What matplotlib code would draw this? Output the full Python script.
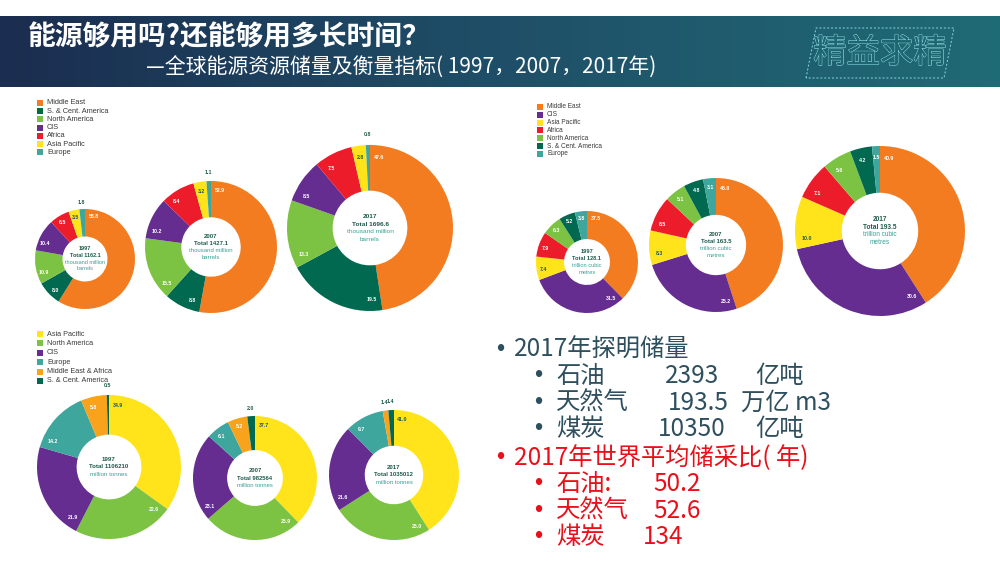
import numpy as np
import matplotlib.pyplot as plt
from matplotlib import patheffects
from matplotlib.colors import LinearSegmentedColormap
from matplotlib.patches import Rectangle, Polygon

CJK = ['Noto Sans CJK SC', 'DejaVu Sans']
LAT = ['Liberation Sans', 'DejaVu Sans']

# ---- data (percent shares) ----
years = ['1997', '2007', '2017']

oil_regions = ['Middle East', 'S. & Cent. America', 'North America', 'CIS',
               'Africa', 'Asia Pacific', 'Europe']
oil_1997 = [58.8, 8.0, 10.9, 10.4, 6.5, 3.5, 1.8]
oil_2007 = [52.9, 8.8, 15.5, 10.2, 8.4, 3.2, 1.1]
oil_2017 = [47.6, 19.5, 13.3, 8.5, 7.5, 2.8, 0.8]
oil_totals = ['1162.1', '1427.1', '1696.6']
oil_unit = ['thousand million', 'barrels']

gas_regions = ['Middle East', 'CIS', 'Asia Pacific', 'Africa', 'North America',
               'S. & Cent. America', 'Europe']
gas_1997 = [37.5, 31.5, 7.4, 7.9, 6.3, 5.2, 3.8]
gas_2007 = [45.0, 25.2, 8.3, 8.5, 5.1, 4.8, 3.1]
gas_2017 = [40.9, 30.6, 10.0, 7.1, 5.6, 4.2, 1.5]
gas_totals = ['128.1', '163.5', '193.5']
gas_unit = ['trillion cubic', 'metres']

coal_regions = ['Asia Pacific', 'North America', 'CIS', 'Europe',
                'Middle East & Africa', 'S. & Cent. America']
coal_1997 = [34.9, 22.6, 21.9, 14.2, 5.8, 0.5]
coal_2007 = [37.7, 25.9, 23.1, 6.1, 5.2, 2.0]
coal_2017 = [41.0, 25.0, 21.6, 9.7, 1.4, 1.4]
coal_totals = ['1106210', '982564', '1035012']
coal_unit = ['million tonnes']

colors = {
    'Middle East': '#f47c20', 'S. & Cent. America': '#00694f',
    'North America': '#7cc243', 'CIS': '#662d91', 'Africa': '#ec1c2b',
    'Asia Pacific': '#ffe31b', 'Europe': '#3ea69c',
    'Middle East & Africa': '#f9a21b',
}
DARK = '#1d5a4b'
TEAL = '#3aa096'

W, H = 1000, 562
fig = plt.figure(figsize=(10, 5.62), dpi=100)
bg = fig.add_axes([0, 0, 1, 1])

# header band
cmap = LinearSegmentedColormap.from_list('hdr', ['#1b2d50', '#1f4f68', '#1f6b75'])
bg.imshow(np.linspace(0, 1, 256).reshape(1, -1), extent=[0, W, 87, 16],
          cmap=cmap, aspect='auto')
bg.set_xlim(0, W)
bg.set_ylim(H, 0)
bg.axis('off')

bg.text(28, 37, '能源够用吗?还能够用多长时间？', color='white', fontsize=20,
        fontweight='bold', va='center', family=CJK)
bg.text(146, 68, '—全球能源资源储量及衡量指标( 1997，2007，2017年)', color='white',
        fontsize=15, va='center', family=CJK)

# logo
bg.add_patch(Polygon([(806, 78), (816, 28), (954, 28), (944, 78)], closed=True,
                     fill=False, ec='#86d8e2', lw=0.7, ls=(0, (2, 2))))
bg.text(880, 53, '精益求精', fontsize=24, color='#1f6670',
        ha='center', va='center', family=CJK,
        path_effects=[patheffects.withStroke(linewidth=0.9, foreground='#8fe0ea'),
                      patheffects.Normal()])


def legend(x0, y0, dy, names, fs):
    for i, n in enumerate(names):
        y = y0 + i * dy
        bg.add_patch(Rectangle((x0 - 3, y - 3), 6, 6, color=colors[n], lw=0))
        bg.text(x0 + 7, y, n, fontsize=fs, va='center', color='#3a3a3a', family=LAT)


def donut(cx, cy, r, values, names, year, total, unit, outside_max):
    ax = fig.add_axes([(cx - r) / W, 1 - (cy + r) / H, 2 * r / W, 2 * r / H])
    ax.pie(values, colors=[colors[n] for n in names], startangle=90,
           counterclock=False, radius=1,
           wedgeprops=dict(width=0.55, linewidth=0))
    ax.set_xlim(-1, 1)
    ax.set_ylim(-1, 1)
    ax.axis('off')
    tot = sum(values)
    start = 0.0
    for v, n in zip(values, names):
        frac = v / tot
        if v <= outside_max:
            th = (start + frac / 2) * 2 * np.pi
            rr, col = 1.13, DARK
        else:
            th = start * 2 * np.pi + min(10.0 / r, frac * np.pi)
            rr = 0.86
            col = DARK if n == 'Asia Pacific' else 'white'
        ax.text(rr * np.sin(th), rr * np.cos(th), f'{v:.1f}', fontsize=3.8,
                fontweight='bold', color=col, ha='center', va='center', family=LAT)
        start += frac
    fs = 3.0 + r * 0.02
    step = fs / 0.72 * 1.2 / r
    lines = [(year, 'bold', DARK), ('Total ' + total, 'bold', DARK)] + \
            [(u, 'normal', TEAL) for u in unit]
    y = step * (len(lines) - 1) / 2
    for txt, wt, col in lines:
        ax.text(0, y, txt, fontsize=fs, fontweight=wt, color=col,
                ha='center', va='center', family=LAT)
        y -= step


# oil
legend(40, 103, 8.2, oil_regions, 5.3)
for (cx, cy, r), vals, yr, tt in zip([(85, 259, 50), (211, 247, 66), (370, 228, 83)],
                                     [oil_1997, oil_2007, oil_2017], years, oil_totals):
    donut(cx, cy, r, vals, oil_regions, yr, tt, oil_unit, 2.0)

# gas
legend(540, 107, 7.8, gas_regions, 4.7)
for (cx, cy, r), vals, yr, tt in zip([(587, 262, 51), (716, 245, 67), (880, 231, 85)],
                                     [gas_1997, gas_2007, gas_2017], years, gas_totals):
    donut(cx, cy, r, vals, gas_regions, yr, tt, gas_unit, 0)

# coal
legend(40, 334, 9.4, coal_regions, 5.2)
for (cx, cy, r), vals, yr, tt in zip([(109, 467, 72), (255, 478, 62), (394, 475, 65)],
                                     [coal_1997, coal_2007, coal_2017], years, coal_totals):
    donut(cx, cy, r, vals, coal_regions, yr, tt, coal_unit, 2.1)

# right-hand notes
SLATE = '#2e4f5e'
RED = '#e8101a'
FS = 17.5


def bullet(x, y, color):
    bg.text(x, y, '•', fontsize=17, color=color, ha='center', va='center', family=LAT)


bullet(500, 350, SLATE)
bg.text(514, 350, '2017年探明储量', fontsize=FS, color=SLATE, va='center', family=CJK)
reserve_rows = [('石油', '2393', '亿吨', 665, 755),
                ('天然气', '193.5', '万亿 m3', 668, 741),
                ('煤炭', '10350', '亿吨', 658, 755)]
for i, (name, num, unit_txt, xn, xu) in enumerate(reserve_rows):
    y = 376 + i * 26.5
    bullet(538, y, SLATE)
    bg.text(556, y, name, fontsize=FS, color=SLATE, va='center', family=CJK)
    bg.text(xn, y, num, fontsize=FS, color=SLATE, va='center', family=CJK)
    bg.text(xu, y, unit_txt, fontsize=FS, color=SLATE, va='center', family=CJK)

bullet(500, 458, RED)
bg.text(514, 458, '2017年世界平均储采比( 年)', fontsize=FS, color=RED, va='center', family=CJK)
rp_rows = [('石油:', '50.2', 653), ('天然气', '52.6', 653), ('煤炭', '134', 643)]
for i, (name, num, xn) in enumerate(rp_rows):
    y = 484 + i * 26.5
    bullet(538, y, RED)
    bg.text(556, y, name, fontsize=FS, color=RED, va='center', family=CJK)
    bg.text(xn, y, num, fontsize=FS, color=RED, va='center', family=CJK)

fig.savefig('out.png', dpi=100)
